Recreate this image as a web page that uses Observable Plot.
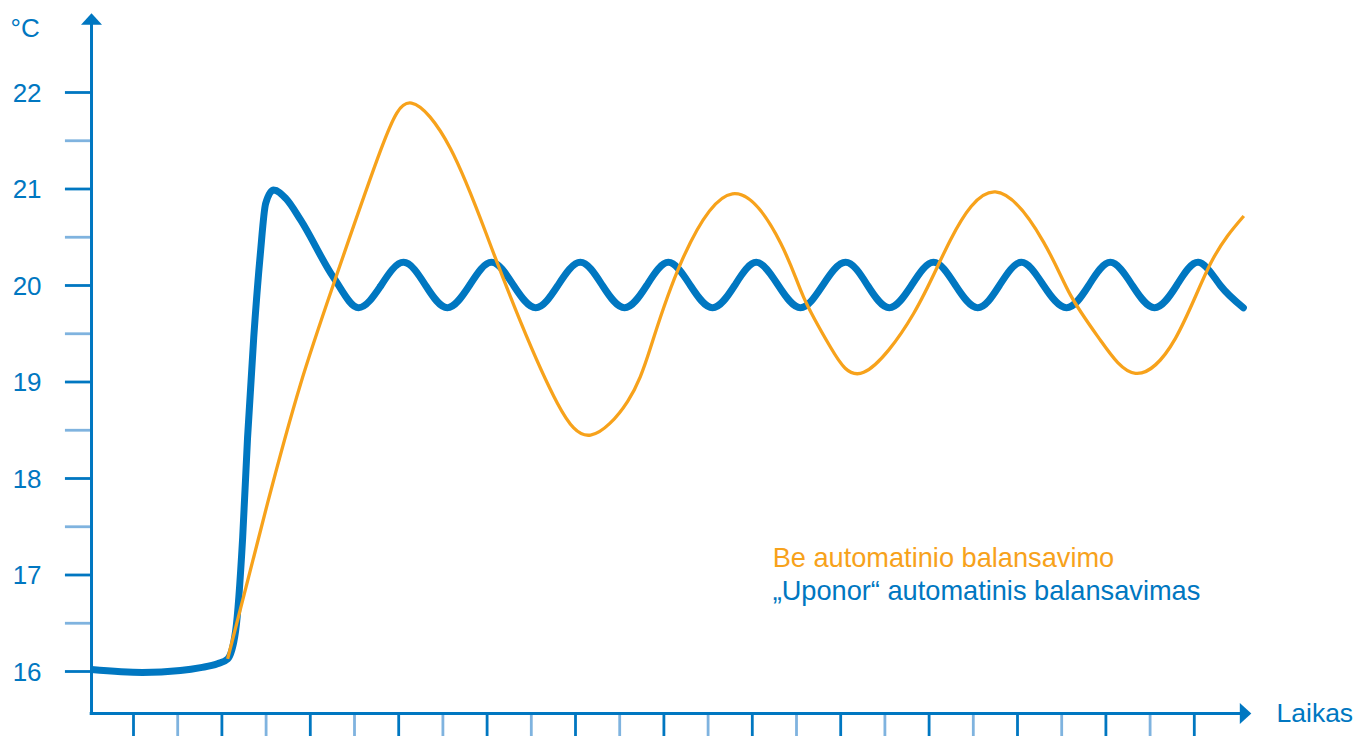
<!DOCTYPE html>
<html>
<head>
<meta charset="utf-8">
<script src="https://cdn.jsdelivr.net/npm/d3@7"></script>
<script src="https://cdn.jsdelivr.net/npm/@observablehq/plot@0.6"></script>
<style>
  html, body { margin: 0; padding: 0; background: #ffffff; }
  #chart svg { display: block; overflow: visible; }
</style>
</head>
<body>
<div id="chart"></div>
<script>
// ---- data (time in tick units, temperature in °C) ----
// "Uponor" series: start-up part (flat, rise, overshoot, first trough)
const blueStartTime = [0.05, 1.2, 2.06, 2.52, 2.9, 3.13, 3.31, 3.47, 3.58, 3.72, 3.87, 3.99, 4.17, 4.45, 4.78, 5.53, 6.09, 6.6];
const blueStartTemp = [16.02, 15.99, 16.01, 16.04, 16.08, 16.13, 16.42, 17.39, 18.42, 19.46, 20.33, 20.85, 20.99, 20.9, 20.68, 20.08, 19.77, 20.0];
// "Uponor" series: steady oscillation
const blueTime = [6.6, 7.11, 7.61, 8.1, 8.6, 9.1, 9.6, 10.1, 10.6, 11.11, 11.61, 12.11, 12.61, 13.1, 13.6, 14.1, 14.6, 15.09,
  15.59, 16.09, 16.59, 17.11, 17.61, 18.1, 18.6, 19.1, 19.6, 20.1, 20.59, 21.09, 21.59, 22.11, 22.61, 23.1,
  23.6, 24.1, 24.6, 25.09, 25.59, 26.11];
const blueTemp = [20.0, 20.24, 20.0, 19.77, 20.0, 20.24, 20.0, 19.77, 20.0, 20.24, 20.0, 19.77, 20.0, 20.24, 20.0, 19.77, 20.0, 20.24,
  20.0, 19.77, 20.0, 20.24, 20.0, 19.77, 20.0, 20.24, 20.0, 19.77, 20.0, 20.24, 20.0, 19.77, 20.0, 20.24,
  20.0, 19.77, 20.0, 20.24, 20.0, 19.77];
// series without automatic balancing
const orangeTime = [3.13, 4.03, 4.78, 5.53, 6.59, 7.29, 8.17, 9.01, 9.76, 10.59, 11.34, 12.18, 12.7, 13.38, 14.55,
  15.64, 16.16, 16.77, 17.52, 18.65, 19.48, 20.5, 21.59, 22.2, 22.88, 23.67, 24.57, 25.37, 26.12];
const orangeTemp = [16.13, 17.74, 18.98, 20.02, 21.4, 21.89, 21.42, 20.5, 19.62, 18.78, 18.45, 18.8, 19.36, 20.23, 20.95,
  20.44, 19.88, 19.36, 19.1, 19.71, 20.47, 20.97, 20.45, 19.9, 19.43, 19.09, 19.45, 20.23, 20.72];

const yMajorTicks = [16, 17, 18, 19, 20, 21, 22];
const yMinorTicks = [16.5, 17.5, 18.5, 19.5, 20.5, 21.5];
const xTicks = d3.range(1, 26);
const seriesNames = ["Be automatinio balansavimo", "\u201EUponor\u201C automatinis balansavimas"];
const yUnit = "°C";
const xName = "Laikas";

// ---- styles / layout ----
const BLUE = "#0077c1";
const LIGHT = "#7fb3df";
const ORANGE = "#f7a21b";
const FONT = "'Liberation Sans', Arial, Helvetica, sans-serif";
const xAxisY = 15.565;   // value at which the time axis sits
const yAxisX = 0.05;     // time at which the temperature axis sits
const xArrowTip = 26.29;
const yArrowTip = 22.82;

const blueStart = blueStartTime.map((t, i) => ({t, v: blueStartTemp[i]}));
const blue = blueTime.map((t, i) => ({t, v: blueTemp[i]}));
const orange = orangeTime.map((t, i) => ({t, v: orangeTemp[i]}));

const arrowHead = {
  draw(ctx) {
    ctx.moveTo(0, 0);
    ctx.lineTo(10.5, 11.5);
    ctx.lineTo(-10.5, 11.5);
    ctx.closePath();
  }
};

const chart = Plot.plot({
  width: 1369,
  height: 736,
  margin: 0,
  x: {domain: [0, 27], range: [88.8, 1282.2], axis: null},
  y: {domain: [16, 22], range: [671, 92], axis: null},
  style: {fontFamily: FONT, background: "#ffffff"},
  marks: [
    // y ticks
    Plot.ruleY(yMinorTicks, {y: d => d, x1: -0.54, x2: yAxisX, stroke: LIGHT, strokeWidth: 2.8}),
    Plot.ruleY(yMajorTicks, {y: d => d, x1: -0.54, x2: yAxisX, stroke: BLUE, strokeWidth: 2.8}),
    // x ticks
    Plot.ruleX(xTicks.filter(d => d % 2 === 0), {x: d => d, y1: xAxisY, y2: 15.2, stroke: LIGHT, strokeWidth: 2.8}),
    Plot.ruleX(xTicks.filter(d => d % 2 === 1), {x: d => d, y1: xAxisY, y2: 15.2, stroke: BLUE, strokeWidth: 2.8}),
    // axis lines
    Plot.ruleX([yAxisX], {y1: xAxisY - 0.015, y2: 22.72, stroke: BLUE, strokeWidth: 3}),
    Plot.ruleY([xAxisY], {x1: 0.02, x2: 26.05, stroke: BLUE, strokeWidth: 3}),
    // arrow heads
    Plot.dot([{x: yAxisX, y: yArrowTip}], {x: "x", y: "y", symbol: arrowHead, fill: BLUE, stroke: null, r: 5}),
    Plot.dot([{x: xArrowTip, y: xAxisY}], {x: "x", y: "y", symbol: arrowHead, fill: BLUE, stroke: null, r: 5, rotate: 90}),
    // tick labels
    Plot.text(yMajorTicks, {x: -1.08, y: d => d, text: d => String(d), textAnchor: "end", dy: 1, fontSize: 26, fill: BLUE}),
    Plot.text([yUnit], {x: -1.78, y: 22.58, text: d => d, textAnchor: "start", lineAnchor: "bottom", fontSize: 26, fill: BLUE}),
    Plot.text([xName], {x: 26.86, y: xAxisY, text: d => d, textAnchor: "start", fontSize: 26.5, fill: BLUE}),
    // series
    Plot.line(blueStart, {x: "t", y: "v", stroke: BLUE, strokeWidth: 7, curve: "monotone-x", strokeLinecap: "butt"}),
    Plot.line(blue, {x: "t", y: "v", stroke: BLUE, strokeWidth: 7, curve: "natural", strokeLinecap: "round"}),
    Plot.line(orange, {x: "t", y: "v", stroke: ORANGE, strokeWidth: 3.3, curve: "natural", strokeLinecap: "butt"}),
    // legend
    Plot.text([seriesNames[0]], {x: 15.46, y: 17.083, text: d => d, textAnchor: "start", lineAnchor: "bottom", fontSize: 27.2, fill: ORANGE}),
    Plot.text([seriesNames[1]], {x: 15.46, y: 16.746, text: d => d, textAnchor: "start", lineAnchor: "bottom", fontSize: 27.2, fill: BLUE})
  ]
});
document.getElementById("chart").appendChild(chart);
</script>
</body>
</html>
